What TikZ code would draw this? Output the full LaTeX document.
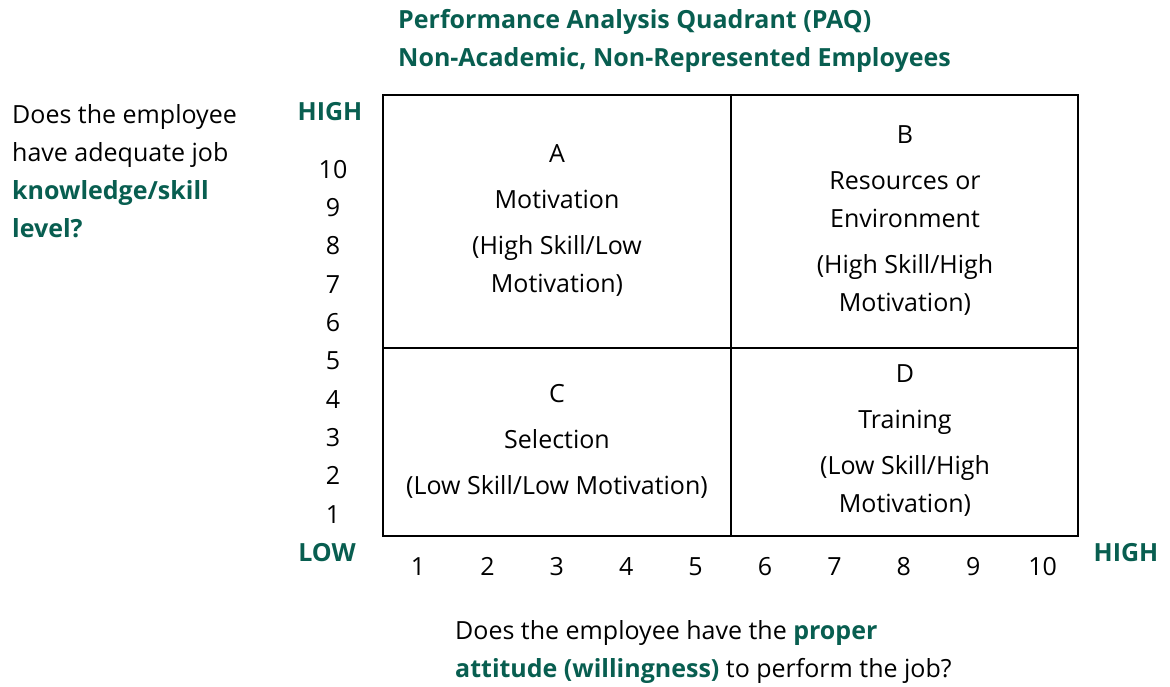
\documentclass[tikz,border=0pt]{standalone}
\usepackage{fontspec}
\setmainfont{Open Sans}
\definecolor{paqgreen}{RGB}{8,94,80}
\tikzset{
  lbl/.style={inner sep=0pt, font=\fontsize{25}{38}\selectfont},
  grn/.style={lbl, text=paqgreen, font=\fontsize{25}{38}\selectfont\bfseries},
  quad/.style={lbl, align=center, anchor=base},
}
\begin{document}
\begin{tikzpicture}[x=1pt,y=-1pt]
\useasboundingbox (0,0) rectangle (1170,686);
% title
\node[grn, anchor=base west] (title) at (398,28) {Performance Analysis Quadrant (PAQ)};
\node[grn, anchor=base west] (subtitle) at (398,66) {Non-Academic, Non-Represented Employees};
% frame and quadrants
\draw[line width=1.6pt] (383,95) rectangle (1078,536);
\draw[line width=1.2pt] (731,95) -- (731,536);
\draw[line width=1.2pt] (383,348) -- (1078,348);
% anchor=base sits on the last line of each block
\node[quad] (qa) at (557,292) {A\\[8pt]Motivation\\[8pt](High Skill/Low\\Motivation)};
\node[quad] (qb) at (905,311) {B\\[8pt]Resources or\\Environment\\[8pt](High Skill/High\\Motivation)};
\node[quad] (qc) at (557,494) {C\\[8pt]Selection\\[8pt](Low Skill/Low Motivation)};
\node[quad] (qd) at (905,512) {D\\[8pt]Training\\[8pt](Low Skill/High\\Motivation)};
% axes
\foreach \i in {1,...,10} {
  \node[lbl, anchor=base] (sk\i) at (333,{523-(\i-1)*38.3}) {\i};
  \node[lbl, anchor=base] (at\i) at ({418+(\i-1)*69.4},575) {\i};
}
\node[grn, anchor=base] (skhigh) at (330,120) {HIGH};
\node[grn, anchor=base] (low) at (327,561) {LOW};
\node[grn, anchor=base] (athigh) at (1126,561) {HIGH};
% questions
\node[lbl, anchor=base west, align=left] (skq) at (12,237)
  {Does the employee\\have adequate job\\\textcolor{paqgreen}{\bfseries knowledge/skill}\\\textcolor{paqgreen}{\bfseries level?}};
\node[lbl, anchor=base west, align=left] (atq) at (455,677)
  {Does the employee have the \textcolor{paqgreen}{\bfseries proper}\\\textcolor{paqgreen}{\bfseries attitude (willingness)} to perform the job?};
\end{tikzpicture}
\end{document}
